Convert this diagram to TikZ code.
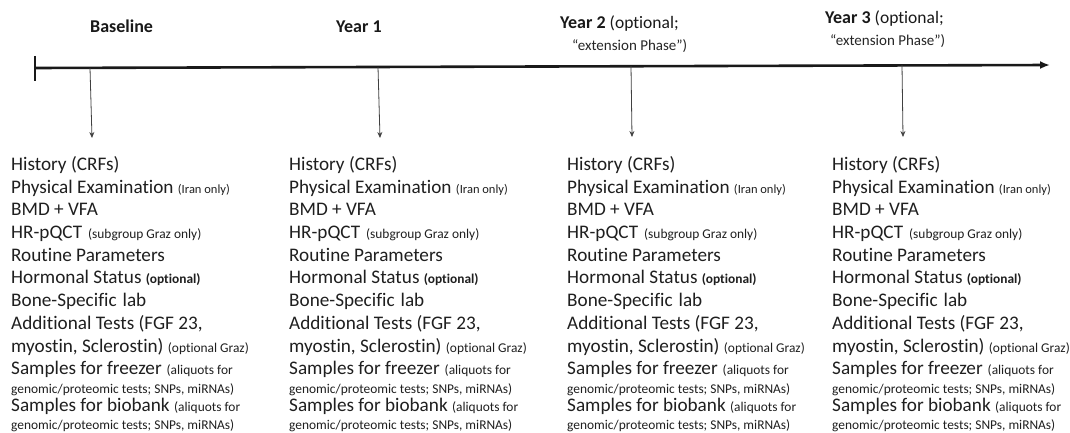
\documentclass[tikz,border=0pt]{standalone}
\usepackage{fontspec}
\setmainfont{Carlito}[Ligatures={NoCommon}]
\usetikzlibrary{arrows.meta}
\newcommand\smtxt[1]{{\fontsize{13.4}{16}\selectfont #1}}
\newcommand\tinytxt[1]{{\fontsize{12.5}{14}\selectfont #1}}
\newcommand\drawcol[2]{%
  \node[item] (#1-1) at (#2,-170) {History (CRFs)};
  \node[item] (#1-2) at (#2,-193) {Physical Examination \tinytxt{(Iran only)}};
  \node[item] (#1-3) at (#2,-215) {BMD + VFA};
  \node[item] (#1-4) at (#2,-238) {HR-pQCT\hspace{6pt}\smtxt{(subgroup Graz only)}};
  \node[item] (#1-5) at (#2,-261) {Routine Parameters};
  \node[item] (#1-6) at (#2,-283) {Hormonal Status \smtxt{\bfseries (optional)}};
  \node[item] (#1-7) at (#2,-306) {Bone-Specific\hspace{6pt}lab};
  \node[item] (#1-8) at (#2,-329) {Additional Tests (FGF 23,};
  \node[item] (#1-9) at (#2,-352) {myostin, Sclerostin) \smtxt{(optional Graz)}};
  \node[item] (#1-10) at (#2,-374) {Samples for freezer\hspace{5pt}\smtxt{(aliquots for}};
  \node[item] (#1-11) at (#2,-393) {\smtxt{genomic/proteomic tests; SNPs, miRNAs)}};
  \node[item] (#1-12) at (#2,-411) {Samples for biobank \smtxt{(aliquots for}};
  \node[item] (#1-13) at (#2,-429) {\smtxt{genomic/proteomic tests; SNPs, miRNAs)}};
}
\begin{document}
\begin{tikzpicture}[x=1pt,y=1pt,
  item/.style={anchor=base west,inner sep=0pt,text=black!88,font=\fontsize{19.2}{22}\selectfont},
  head/.style={anchor=base west,inner sep=0pt,text=black!90,font=\fontsize{18}{22}\selectfont\bfseries},
  headsub/.style={anchor=base west,inner sep=0pt,text=black!85,font=\fontsize{15}{18}\selectfont},
  timeline/.style={line width=2.6pt,draw=black!90},
  drop/.style={line width=0.8pt,draw=black!75,-{Stealth[length=6pt,width=5pt]}}]
\useasboundingbox (0,0) rectangle (1070,-433);
\fill[white] (0,0) rectangle (1070,-433);
% headers
\node[head] (h0) at (90,-33) {Baseline};
\node[head] (h1) at (336,-33) {Year 1};
\node[head] (h2) at (560,-29) {Year 2 {\mdseries\fontsize{17.5}{22}\selectfont(optional;}};
\node[headsub] (h2b) at (572,-51) {“extension Phase”)};
\node[head] (h3) at (825,-24) {Year 3 {\mdseries\fontsize{17.5}{22}\selectfont(optional;}};
\node[headsub] (h3b) at (830,-46) {“extension Phase”)};
% timeline
\coordinate (t0) at (35,-68);
\coordinate (t1) at (1050,-65);
\coordinate (tk0) at (35,-56);
\coordinate (tk1) at (35,-81);
\draw[timeline] (tk0) -- (tk1);
\draw[timeline,-{Latex[length=10pt,width=8pt]}] (t0) -- (t1);
% drop points
\coordinate (d0) at (90,-68);
\coordinate (d1) at (378,-67);
\coordinate (d2) at (631,-66);
\coordinate (d3) at (902,-65);
\coordinate (e0) at (92,-138);
\coordinate (e1) at (380,-138);
\coordinate (e2) at (632,-137);
\coordinate (e3) at (903,-137);
\draw[drop] (d0) -- (e0);
\draw[drop] (d1) -- (e1);
\draw[drop] (d2) -- (e2);
\draw[drop] (d3) -- (e3);
% columns
\drawcol{c0}{11}
\drawcol{c1}{289}
\drawcol{c2}{567}
\drawcol{c3}{832}
\end{tikzpicture}
\end{document}
